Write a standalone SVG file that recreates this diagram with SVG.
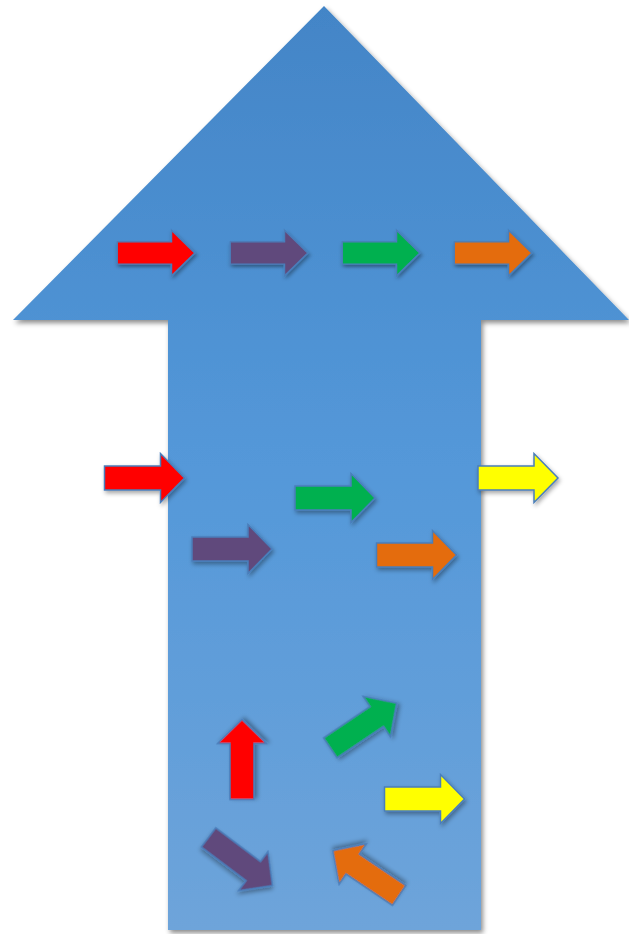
<svg xmlns="http://www.w3.org/2000/svg" width="629" height="934" viewBox="0 0 629 934">
  <defs>
    <linearGradient id="bigGrad" x1="0" y1="0" x2="0" y2="1">
      <stop offset="0" stop-color="#4385C7"/>
      <stop offset="0.5" stop-color="#5498D9"/>
      <stop offset="1" stop-color="#6EA4DA"/>
    </linearGradient>
    <filter id="bigShadow" x="-10%" y="-10%" width="120%" height="120%">
      <feDropShadow dx="2" dy="3" stdDeviation="2.5" flood-color="#000" flood-opacity="0.45"/>
    </filter>
    <filter id="smallShadow" x="-30%" y="-30%" width="160%" height="160%">
      <feDropShadow dx="1.5" dy="2.5" stdDeviation="2" flood-color="#000" flood-opacity="0.35"/>
    </filter>
    <path id="blk" d="M-40,-12 H16 V-24.5 L40,0 L16,24.5 V12 H-40 Z"/>
  </defs>
  <style>
    .a { stroke: #4A7EBB; stroke-width: 1.5; stroke-linejoin: miter; filter: url(#smallShadow); }
    .red { fill: #FF0000; }
    .pur { fill: #604A7B; }
    .grn { fill: #00B050; }
    .org { fill: #E46C0A; }
    .yel { fill: #FFFF00; }
  </style>

  <g id="big-arrow">
    <path d="M324,6 L629,320 H481 V930 H168 V320 H13 Z" fill="url(#bigGrad)" filter="url(#bigShadow)"/>
  </g>

  <g id="top-red"><use href="#blk" class="a red" transform="translate(156,253) scale(0.97,0.93)"/></g>
  <g id="top-purple"><use href="#blk" class="a pur" transform="translate(269,253) scale(0.97,0.93)"/></g>
  <g id="top-green"><use href="#blk" class="a grn" transform="translate(381,253) scale(0.97,0.93)"/></g>
  <g id="top-orange"><use href="#blk" class="a org" transform="translate(493,253) scale(0.97,0.93)"/></g>

  <g id="mid-red"><use href="#blk" class="a red" transform="translate(144.5,478)"/></g>
  <g id="mid-green"><use href="#blk" class="a grn" transform="translate(335,498)"/></g>
  <g id="mid-yellow"><use href="#blk" class="a yel" transform="translate(518,478)"/></g>
  <g id="mid-purple"><use href="#blk" class="a pur" transform="translate(232,549)"/></g>
  <g id="mid-orange"><use href="#blk" class="a org" transform="translate(416.5,555)"/></g>

  <g id="bot-red-up"><use href="#blk" class="a red" transform="translate(242,759.5) rotate(-90)"/></g>
  <g id="bot-green-diag"><use href="#blk" class="a grn" transform="translate(363.5,725.5) rotate(-34)"/></g>
  <g id="bot-yellow"><use href="#blk" class="a yel" transform="translate(424.5,799)"/></g>
  <g id="bot-purple-diag"><use href="#blk" class="a pur" transform="translate(240.5,861.5) rotate(37)"/></g>
  <g id="bot-orange-diag"><use href="#blk" class="a org" transform="translate(366,873) rotate(-146)"/></g>
</svg>
